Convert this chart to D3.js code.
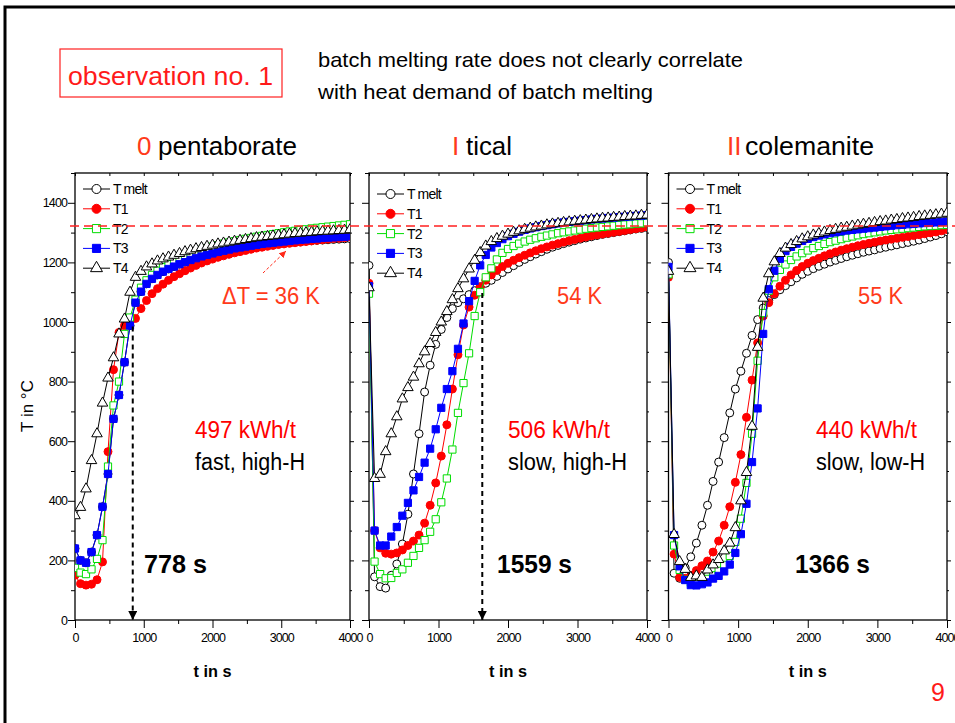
<!DOCTYPE html>
<html>
<head>
<meta charset="utf-8">
<script src="https://d3js.org/d3.v7.min.js"></script>
<style>
  body { margin: 0; background: #fff; }
  svg { display: block; }
  text { font-family: "Liberation Sans", Arial, sans-serif; }
</style>
</head>
<body>
<svg id="chart" width="955" height="723"></svg>
<script>
// sampling times in s (one marker every 80 s)
const times = [0, 80, 160, 240, 320, 400, 480, 560, 640, 720,
  800, 880, 960, 1040, 1120, 1200, 1280, 1360, 1440, 1520,
  1600, 1680, 1760, 1840, 1920, 2000, 2080, 2160, 2240, 2320,
  2400, 2480, 2560, 2640, 2720, 2800, 2880, 2960, 3040, 3120,
  3200, 3280, 3360, 3440, 3520, 3600, 3680, 3760, 3840, 3920, 4000];

const seriesNames = ["T melt", "T1", "T2", "T3", "T4"];
const panelPrefix = ["0", "I", "II"];
const panelNames = ["pentaborate", "tical", "colemanite"];
const xTicks = [0, 1000, 2000, 3000, 4000];
const xMinor = [500, 1500, 2500, 3500];
const yTicks = [0, 200, 400, 600, 800, 1000, 1200, 1400];
const yMinor = [100, 300, 500, 700, 900, 1100, 1300, 1500];
const targetTemp = 1322;
const deltaT = ["\u0394T = 36 K", "54 K", "55 K"];
const heatDemand = ["497 kWh/t", "506 kWh/t", "440 kWh/t"];
const behaviour = ["fast, high-H", "slow, high-H", "slow, low-H"];
const meltTimes = ["778 s", "1559 s", "1366 s"];
const dropMarks = [[840, 985], [1630, 1097], null];   // [t, T] of the dashed arrows

// 0 pentaborate
const pentaTmelt = [240, 200, 192, 228, 285, 380, 490, 675, 755, 865,
  988, 1065, 1102, 1128, 1145, 1158, 1169, 1178, 1186, 1194,
  1201, 1208, 1214, 1220, 1225, 1230, 1234, 1238, 1242, 1245,
  1248, 1251, 1254, 1256, 1258, 1260, 1262, 1264, 1266, 1267,
  1269, 1270, 1272, 1273, 1274, 1275, 1276, 1277, 1278, 1279, 1280];
const pentaT1 = [150, 122, 117, 120, 135, 195, 565, 840, 965, 988,
  1000, 1012, 1045, 1072, 1095, 1112, 1127, 1140, 1152, 1162,
  1172, 1181, 1190, 1198, 1205, 1211, 1217, 1222, 1227, 1232,
  1236, 1240, 1244, 1248, 1251, 1254, 1257, 1260, 1262, 1264,
  1266, 1268, 1270, 1272, 1274, 1276, 1278, 1280, 1281, 1283, 1285];
const pentaT2 = [175, 159, 154, 170, 205, 268, 515, 720, 800, 960,
  1015, 1075, 1115, 1140, 1158, 1172, 1184, 1195, 1204, 1213,
  1221, 1228, 1235, 1242, 1248, 1253, 1258, 1263, 1267, 1271,
  1275, 1279, 1282, 1286, 1289, 1292, 1295, 1298, 1301, 1304,
  1306, 1309, 1311, 1314, 1316, 1318, 1320, 1322, 1324, 1326, 1328];
const pentaT3 = [240, 200, 192, 228, 285, 380, 490, 675, 755, 865,
  988, 1065, 1102, 1128, 1145, 1158, 1169, 1178, 1186, 1194,
  1201, 1208, 1214, 1220, 1225, 1230, 1235, 1239, 1243, 1247,
  1250, 1253, 1256, 1259, 1262, 1264, 1266, 1268, 1270, 1272,
  1274, 1276, 1277, 1279, 1280, 1282, 1283, 1284, 1285, 1286, 1288];
const pentaT4 = [350, 378, 440, 535, 625, 728, 812, 880, 960, 1010,
  1100, 1150, 1170, 1185, 1195, 1205, 1212, 1218, 1224, 1230,
  1236, 1241, 1246, 1250, 1254, 1258, 1262, 1265, 1268, 1271,
  1274, 1277, 1280, 1283, 1285, 1287, 1289, 1291, 1293, 1295,
  1297, 1298, 1300, 1301, 1303, 1304, 1305, 1306, 1307, 1308, 1310];

// I tical
const ticalTmelt = [1190, 145, 112, 107, 150, 188, 255, 355, 490, 625,
  765, 855, 925, 975, 1015, 1045, 1065, 1078, 1092, 1105,
  1118, 1130, 1140, 1153, 1166, 1178, 1189, 1200, 1210, 1219,
  1228, 1236, 1244, 1251, 1257, 1263, 1268, 1273, 1278, 1282,
  1286, 1290, 1294, 1297, 1300, 1303, 1306, 1309, 1312, 1314, 1317];
const ticalT1 = [1130, 300, 242, 224, 221, 225, 235, 250, 265, 285,
  325, 385, 460, 550, 655, 775, 890, 990, 1050, 1090,
  1118, 1140, 1158, 1173, 1186, 1197, 1207, 1216, 1224, 1232,
  1239, 1246, 1252, 1258, 1263, 1268, 1273, 1277, 1281, 1285,
  1289, 1292, 1295, 1298, 1301, 1304, 1307, 1310, 1313, 1316, 1319];
const ticalT2 = [1095, 196, 154, 140, 141, 158, 170, 192, 215, 242,
  268, 296, 338, 395, 475, 572, 695, 795, 895, 1020,
  1100, 1150, 1180, 1210, 1232, 1245, 1255, 1263, 1270, 1276,
  1281, 1286, 1290, 1294, 1298, 1301, 1304, 1307, 1310, 1313,
  1315, 1317, 1319, 1321, 1323, 1325, 1327, 1328, 1330, 1331, 1333];
const ticalT3 = [1120, 300, 250, 250, 280, 312, 350, 393, 435, 480,
  528, 575, 640, 712, 775, 835, 910, 995, 1070, 1138,
  1190, 1225, 1250, 1265, 1278, 1288, 1296, 1303, 1309, 1314,
  1318, 1322, 1325, 1328, 1331, 1334, 1336, 1338, 1340, 1342,
  1344, 1346, 1347, 1349, 1350, 1352, 1353, 1354, 1356, 1357, 1358];
const ticalT4 = [1115, 475, 489, 565, 625, 682, 742, 780, 815, 860,
  900, 928, 965, 1000, 1035, 1075, 1112, 1145, 1178, 1207,
  1233, 1255, 1270, 1280, 1288, 1295, 1301, 1306, 1311, 1315,
  1319, 1322, 1326, 1329, 1331, 1334, 1336, 1338, 1340, 1342,
  1344, 1346, 1348, 1349, 1351, 1352, 1354, 1355, 1356, 1358, 1359];

// II colemanite
const coleTmelt = [1200, 157, 140, 175, 212, 258, 318, 385, 465, 530,
  612, 695, 775, 835, 895, 955, 1008, 1047, 1072, 1092,
  1108, 1122, 1135, 1148, 1160, 1170, 1179, 1187, 1194, 1201,
  1207, 1213, 1219, 1224, 1229, 1234, 1238, 1242, 1247, 1251,
  1255, 1259, 1263, 1267, 1271, 1275, 1280, 1285, 1290, 1296, 1303];
const coleT1 = [1150, 221, 143, 140, 150, 166, 182, 198, 228, 265,
  318, 380, 462, 555, 680, 805, 930, 1020, 1065, 1095,
  1120, 1140, 1158, 1173, 1186, 1197, 1206, 1214, 1222, 1229,
  1235, 1241, 1246, 1251, 1256, 1260, 1264, 1268, 1272, 1275,
  1278, 1281, 1284, 1287, 1290, 1293, 1296, 1299, 1302, 1306, 1310];
const coleT2 = [1160, 250, 168, 135, 125, 122, 126, 138, 150, 165,
  185, 215, 262, 340, 460, 625, 870, 1030, 1105, 1150,
  1175, 1193, 1208, 1220, 1231, 1240, 1248, 1255, 1262, 1268,
  1273, 1278, 1283, 1287, 1291, 1295, 1298, 1301, 1304, 1307,
  1309, 1311, 1313, 1315, 1317, 1319, 1321, 1322, 1323, 1325, 1326];
const coleT3 = [1185, 285, 180, 134, 117, 116, 120, 126, 139, 148,
  163, 186, 225, 288, 390, 530, 710, 960, 1110, 1172,
  1212, 1238, 1252, 1263, 1272, 1279, 1285, 1290, 1294, 1298,
  1301, 1304, 1307, 1309, 1311, 1313, 1315, 1317, 1319, 1321,
  1323, 1325, 1326, 1328, 1329, 1331, 1332, 1333, 1334, 1336, 1337];
const coleT4 = [1170, 287, 196, 170, 143, 148, 143, 168, 185, 203,
  232, 258, 310, 400, 495, 650, 915, 1080, 1162, 1202,
  1230, 1248, 1260, 1270, 1279, 1286, 1292, 1297, 1302, 1307,
  1311, 1315, 1318, 1322, 1325, 1328, 1331, 1334, 1337, 1339,
  1342, 1344, 1347, 1349, 1351, 1354, 1356, 1358, 1360, 1362, 1365];

const panelData = [
  [pentaTmelt, pentaT1, pentaT2, pentaT3, pentaT4],
  [ticalTmelt, ticalT1, ticalT2, ticalT3, ticalT4],
  [coleTmelt, coleT1, coleT2, coleT3, coleT4]
];

// look of each series
const styles = [
  { line: "#000", symbol: d3.symbolCircle, size: 50, fill: "#fff", stroke: "#000" },
  { line: "#ff0000", symbol: d3.symbolCircle, size: 50, fill: "#ff0000", stroke: "#ff0000" },
  { line: "#00dd00", symbol: d3.symbolSquare, size: 52, fill: "#fff", stroke: "#00dd00" },
  { line: "#0000ff", symbol: d3.symbolSquare, size: 52, fill: "#0000ff", stroke: "#0000ff" },
  { line: "#000", symbol: d3.symbolTriangle, size: 48, fill: "#fff", stroke: "#000" }
];

// panel layout (pixels)
const layout = [
  { x0: 75, x1: 350, pre: 137, name: 158, nameW: 139, legY: 189, dT: 222, dTW: 98, txt: 195, w1: 101, w2: 110, sec: 144, secW: 63 },
  { x0: 369, x1: 647, pre: 452, name: 466, nameW: 46, legY: 194, dT: 557, dTW: 45, txt: 508, w1: 102, w2: 119, sec: 497, secW: 75 },
  { x0: 668.5, x1: 947, pre: 727, name: 745, nameW: 129, legY: 189, dT: 858, dTW: 45, txt: 816, w1: 101, w2: 109, sec: 795, secW: 75 }
];
const plotTop = 173, plotBottom = 620;
const orange = "#ff3a1a";

const svg = d3.select("#chart");
svg.append("rect").attr("width", 955).attr("height", 723).attr("fill", "#fff");

// slide frame
svg.append("path")
  .attr("d", "M5,723V7H955")
  .attr("fill", "none").attr("stroke", "#000").attr("stroke-width", 3);

// header
svg.append("rect")
  .attr("x", 60).attr("y", 49).attr("width", 222).attr("height", 48)
  .attr("fill", "none").attr("stroke", "#ff2020").attr("stroke-width", 1.2);
svg.append("text")
  .attr("x", 68).attr("y", 85)
  .attr("font-size", 26).attr("fill", "#ff1a1a")
  .attr("textLength", 205).attr("lengthAdjust", "spacingAndGlyphs")
  .text("observation no. 1");
svg.append("text")
  .attr("x", 318).attr("y", 67)
  .attr("font-size", 21).attr("fill", "#000")
  .attr("textLength", 425).attr("lengthAdjust", "spacingAndGlyphs")
  .text("batch melting rate does not clearly correlate");
svg.append("text")
  .attr("x", 318).attr("y", 99)
  .attr("font-size", 21).attr("fill", "#000")
  .attr("textLength", 335).attr("lengthAdjust", "spacingAndGlyphs")
  .text("with heat demand of batch melting");

// page number
svg.append("text")
  .attr("x", 931).attr("y", 701)
  .attr("font-size", 25).attr("fill", "#ff1a1a")
  .text("9");

// y label
svg.append("text")
  .attr("transform", "translate(33,406) rotate(-90)")
  .attr("text-anchor", "middle")
  .attr("font-size", 17)
  .text("T in \u00b0C");

const y = d3.scaleLinear().domain([0, 1500]).range([plotBottom, plotTop]);

const defs = svg.append("defs");
defs.append("marker")
  .attr("id", "headBlack").attr("viewBox", "0 0 10 10")
  .attr("refX", 10).attr("refY", 5)
  .attr("markerWidth", 9).attr("markerHeight", 9)
  .attr("markerUnits", "userSpaceOnUse")
  .attr("orient", "auto")
  .append("path").attr("d", "M0,0L10,5L0,10Z").attr("fill", "#000");
defs.append("marker")
  .attr("id", "headRed").attr("viewBox", "0 0 10 10")
  .attr("refX", 10).attr("refY", 5)
  .attr("markerWidth", 7).attr("markerHeight", 7)
  .attr("markerUnits", "userSpaceOnUse")
  .attr("orient", "auto")
  .append("path").attr("d", "M0,0L10,5L0,10Z").attr("fill", "#ff2a1a");

layout.forEach((L, p) => {
  const x = d3.scaleLinear().domain([0, 4000]).range([L.x0, L.x1]);
  const g = svg.append("g");

  defs.append("clipPath").attr("id", "clip" + p)
    .append("rect")
    .attr("x", L.x0).attr("y", plotTop)
    .attr("width", L.x1 - L.x0).attr("height", plotBottom - plotTop);

  // axes
  const bx = g.append("g").attr("transform", `translate(0,${plotBottom})`)
    .call(d3.axisBottom(x).tickValues(xTicks).tickSize(8).tickSizeOuter(0).tickFormat(d3.format("d")));
  g.append("g").attr("transform", `translate(0,${plotBottom})`)
    .call(d3.axisBottom(x).tickValues(xMinor).tickSize(4).tickFormat(""));
  g.append("g").attr("transform", `translate(0,${plotTop})`)
    .call(d3.axisTop(x).tickValues(xMinor.concat(xTicks)).tickSize(-3).tickFormat(""));
  const ly = g.append("g").attr("transform", `translate(${L.x0},0)`)
    .call(d3.axisLeft(y).tickValues(yTicks).tickSize(7).tickFormat(p === 0 ? d3.format("d") : ""));
  g.append("g").attr("transform", `translate(${L.x0},0)`)
    .call(d3.axisLeft(y).tickValues(yMinor).tickSize(4).tickFormat(""));
  g.append("g").attr("transform", `translate(${L.x1},0)`)
    .call(d3.axisRight(y).tickValues(yTicks).tickSize(4).tickFormat(""));
  g.append("g").attr("transform", `translate(${L.x1},0)`)
    .call(d3.axisRight(y).tickValues(yMinor).tickSize(2).tickFormat(""));
  g.selectAll(".domain").remove();
  g.selectAll(".tick line").attr("stroke", "#000");
  g.selectAll(".tick text")
    .attr("font-family", "'Liberation Sans', Arial, sans-serif")
    .attr("font-size", 12.5).attr("letter-spacing", "-0.9px").attr("fill", "#000");
  bx.selectAll(".tick text").attr("dy", "0.9em");
  ly.selectAll(".tick text").attr("x", -8);

  g.append("rect")
    .attr("x", L.x0).attr("y", plotTop)
    .attr("width", L.x1 - L.x0).attr("height", plotBottom - plotTop)
    .attr("fill", "none").attr("stroke", "#000").attr("stroke-width", 1.3);

  // x label
  g.append("text")
    .attr("x", (L.x0 + L.x1) / 2).attr("y", 677)
    .attr("text-anchor", "middle")
    .attr("font-size", 16.5).attr("font-weight", "bold")
    .attr("textLength", 38).attr("lengthAdjust", "spacingAndGlyphs")
    .text("t in s");

  // title
  g.append("text").attr("x", L.pre).attr("y", 155)
    .attr("font-size", 26).attr("fill", orange).text(panelPrefix[p]);
  g.append("text").attr("x", L.name).attr("y", 155)
    .attr("font-size", 26).attr("fill", "#000")
    .attr("textLength", L.nameW).attr("lengthAdjust", "spacingAndGlyphs")
    .text(panelNames[p]);

  // series
  const plot = g.append("g").attr("clip-path", `url(#clip${p})`);
  const line = d3.line().x((d, i) => x(times[i])).y(d => y(d));
  panelData[p].forEach((vals, s) => {
    const st = styles[s];
    plot.append("path")
      .datum(vals)
      .attr("d", line)
      .attr("fill", "none").attr("stroke", st.line).attr("stroke-width", 1);
    plot.append("g").selectAll("path")
      .data(vals)
      .join("path")
      .attr("transform", (d, i) => `translate(${x(times[i])},${y(d)})`)
      .attr("d", d3.symbol().type(st.symbol).size(st.size))
      .attr("fill", st.fill).attr("stroke", st.stroke).attr("stroke-width", 1);
  });

  // legend
  const leg = g.append("g");
  seriesNames.forEach((name, s) => {
    const st = styles[s];
    const ry = L.legY + s * 19.8;
    const lx = L.x0 + 8;
    leg.append("line")
      .attr("x1", lx).attr("x2", lx + 27).attr("y1", ry).attr("y2", ry)
      .attr("stroke", st.line).attr("stroke-width", 1);
    leg.append("path")
      .attr("transform", `translate(${lx + 13.5},${ry})`)
      .attr("d", d3.symbol().type(st.symbol).size(st.size + 14))
      .attr("fill", st.fill).attr("stroke", st.stroke).attr("stroke-width", 1);
    leg.append("text")
      .attr("x", lx + 30).attr("y", ry + 5)
      .attr("font-size", 14).attr("letter-spacing", "-0.8px")
      .text(name);
  });

  // annotations
  g.append("text").attr("x", L.dT).attr("y", 304)
    .attr("font-size", 23).attr("fill", orange)
    .attr("textLength", L.dTW).attr("lengthAdjust", "spacingAndGlyphs")
    .text(deltaT[p]);
  g.append("text").attr("x", L.txt).attr("y", 438)
    .attr("font-size", 23).attr("fill", "#ff0000")
    .attr("textLength", L.w1).attr("lengthAdjust", "spacingAndGlyphs")
    .text(heatDemand[p]);
  g.append("text").attr("x", L.txt).attr("y", 470)
    .attr("font-size", 23).attr("fill", "#000")
    .attr("textLength", L.w2).attr("lengthAdjust", "spacingAndGlyphs")
    .text(behaviour[p]);
  g.append("text").attr("x", L.sec).attr("y", 573)
    .attr("font-size", 25).attr("font-weight", "bold")
    .attr("textLength", L.secW).attr("lengthAdjust", "spacingAndGlyphs")
    .text(meltTimes[p]);

  if (dropMarks[p]) {
    const [t, v] = dropMarks[p];
    g.append("line")
      .attr("x1", x(t)).attr("x2", x(t))
      .attr("y1", y(v)).attr("y2", plotBottom)
      .attr("stroke", "#000").attr("stroke-width", 2)
      .attr("stroke-dasharray", "5,4")
      .attr("marker-end", "url(#headBlack)");
  }
  if (p === 0) {
    g.append("line")
      .attr("x1", 263).attr("y1", 273).attr("x2", 286).attr("y2", 251)
      .attr("stroke", "#ff2a1a").attr("stroke-width", 1)
      .attr("stroke-dasharray", "3,2")
      .attr("marker-end", "url(#headRed)");
  }
});

// target temperature line across all panels
svg.append("line")
  .attr("x1", 70).attr("x2", 955)
  .attr("y1", y(targetTemp)).attr("y2", y(targetTemp))
  .attr("stroke", "#ff2020").attr("stroke-width", 1.5)
  .attr("stroke-dasharray", "9,5");
</script>
</body>
</html>
